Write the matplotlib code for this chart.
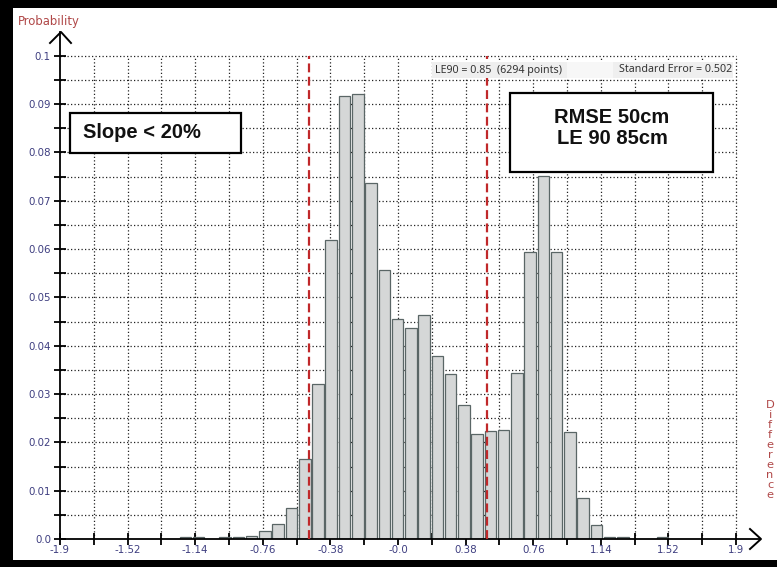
import matplotlib
matplotlib.use("Agg")
import matplotlib.pyplot as plt
from matplotlib.patches import Rectangle
import numpy as np

# ---- data ----
x_min, x_max = -1.9, 1.9
n_bins = 51
probability = [0, 0, 0, 0, 0, 0, 0, 0, 0,
               0.0004, 0.0004, 0.0, 0.0004, 0.0004, 0.0007, 0.0016, 0.0031, 0.0065,
               0.0166, 0.0321, 0.0619, 0.0917, 0.0920, 0.0736, 0.0557, 0.0455, 0.0436,
               0.0463, 0.0379, 0.0342, 0.0278, 0.0218, 0.0224, 0.0226, 0.0344, 0.0594,
               0.0752, 0.0594, 0.0222, 0.0085, 0.0030, 0.0004, 0.0004, 0.0, 0.0,
               0.0004, 0, 0, 0, 0, 0]
le_lines = [-0.5, 0.502]
x_tick_values = [round(-1.9 + 0.19 * i, 2) for i in range(21)]
x_tick_labels = ["-1.9", "", "-1.52", "", "-1.14", "", "-0.76", "", "-0.38", "",
                 "-0.0", "", "0.38", "", "0.76", "", "1.14", "", "1.52", "", "1.9"]
y_tick_values = [round(0.005 * i, 3) for i in range(21)]
y_tick_labels = ["0.0", "", "0.01", "", "0.02", "", "0.03", "", "0.04", "", "0.05", "",
                 "0.06", "", "0.07", "", "0.08", "", "0.09", "", "0.1"]
info_left = "LE90 = 0.85  (6294 points)"
info_right = "Standard Error = 0.502"
box1_text = "Slope < 20%"
box2_text = "RMSE 50cm\nLE 90 85cm"

W, H = 777, 567
fig = plt.figure(figsize=(W / 100, H / 100), dpi=100)
fig.patch.set_facecolor("white")

def fx(px):
    return px / W

def fy(py):
    return 1 - py / H

# axes geometry (pixels)
ax_l, ax_r, ax_t, ax_b = 60, 760, 32, 539
ax = fig.add_axes([fx(ax_l), fy(ax_b), fx(ax_r - ax_l), (ax_b - ax_t) / H])
xpp = (x_max - x_min) / (736 - 60)
ax.set_xlim(x_min, x_min + (ax_r - ax_l) * xpp)
ax.set_ylim(0, (ax_b - ax_t) / 4833)
ax.set_facecolor("none")

for s in ["top", "right"]:
    ax.spines[s].set_visible(False)
for s in ["left", "bottom"]:
    ax.spines[s].set_linewidth(1.3)
    ax.spines[s].set_color("black")

# grid
grid_kw = dict(color="#222222", linewidth=0.9, linestyle=(0, (1, 1.8)), zorder=1)
ax.vlines(x_tick_values[1:], 0, 0.1, **grid_kw)
ax.hlines(y_tick_values[1:], x_min, x_max, **grid_kw)

# bars
bw = (x_max - x_min) / n_bins
edges = x_min + bw * np.arange(n_bins)
vals = np.array(probability)
mask = vals > 0
ax.bar(edges[mask] + 0.03 * bw, vals[mask], width=0.87 * bw, align="edge",
       facecolor="#d5d7d7", edgecolor="#5a6666", linewidth=0.9, zorder=2)

# dashed red lines
for v in le_lines:
    ax.vlines(v, 0, 0.1, color="#c0282a", linewidth=1.6, linestyle=(0, (4, 2)), zorder=3)

# ticks
ax.set_xticks(x_tick_values)
ax.set_xticklabels(x_tick_labels)
ax.set_yticks(y_tick_values)
ax.set_yticklabels(y_tick_labels)
ax.tick_params(axis="both", direction="inout", length=8, width=1.3, color="black",
               labelsize=7.4, labelcolor="#3e3e80")
ax.tick_params(axis="x", pad=0.5)
ax.tick_params(axis="y", pad=2.5)
for lab in ax.get_xticklabels() + ax.get_yticklabels():
    lab.set_fontfamily("DejaVu Sans")

# arrow heads
fig.add_artist(plt.Line2D([fx(50), fx(61), fx(71)], [fy(43), fy(32), fy(43)],
                          color="black", linewidth=1.4))
fig.add_artist(plt.Line2D([fx(750), fx(761), fx(750)], [fy(529), fy(539), fy(549)],
                          color="black", linewidth=1.4))

# axis titles
fig.text(fx(18), fy(21), "Probability", color="#b04848", fontsize=8.4,
         family="DejaVu Sans", va="center", ha="left")
fig.text(fx(770), fy(450), "\n".join("Difference"), color="#b04848", fontsize=8.2,
         family="DejaVu Sans", va="center", ha="center", linespacing=1.0)

# info strip
fig.add_artist(Rectangle((fx(432), fy(78)), fx(567 - 432), (78 - 62) / H,
                         facecolor="#efefef", edgecolor="none", zorder=4))
fig.add_artist(Rectangle((fx(567), fy(78)), fx(613 - 567), (78 - 62) / H,
                         facecolor="#f7f7f7", edgecolor="none", zorder=4))
fig.add_artist(Rectangle((fx(613), fy(78)), fx(733 - 613), (78 - 62) / H,
                         facecolor="#efefef", edgecolor="none", zorder=4))
fig.text(fx(435), fy(70), info_left, fontsize=7.7, family="Noto Sans",
         color="#333333", va="center", ha="left", zorder=5)
fig.text(fx(732), fy(70), info_right, fontsize=7.7, family="Noto Sans",
         color="#333333", va="center", ha="right", zorder=5)

# annotation boxes
fig.add_artist(Rectangle((fx(70), fy(153)), fx(241 - 70), (153 - 113) / H,
                         facecolor="white", edgecolor="black", linewidth=1.6, zorder=6))
fig.text(fx(83), fy(133), box1_text, fontsize=14.5, family="Liberation Sans",
         weight="bold", va="center", ha="left", color="#111111", zorder=7)
fig.add_artist(Rectangle((fx(510), fy(172)), fx(713 - 510), (172 - 93) / H,
                         facecolor="white", edgecolor="black", linewidth=1.6, zorder=6))
fig.text(fx(612), fy(128), box2_text, fontsize=14.5, family="Liberation Sans",
         weight="bold", va="center", ha="center", color="#111111", zorder=7,
         linespacing=1.15)

# black borders
fig.add_artist(Rectangle((0, fy(8)), 1, 8 / H, facecolor="black", edgecolor="none", zorder=10))
fig.add_artist(Rectangle((0, 0), fx(13), 1, facecolor="black", edgecolor="none", zorder=10))
fig.add_artist(Rectangle((0, 0), 1, (567 - 560) / H, facecolor="black", edgecolor="none", zorder=10))

fig.savefig("out.png", dpi=100)
